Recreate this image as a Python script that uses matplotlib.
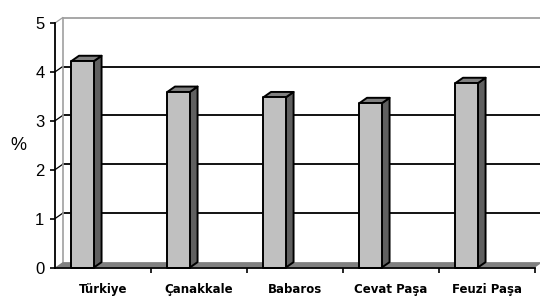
import numpy as np
import matplotlib
matplotlib.use("Agg")
import matplotlib.pyplot as plt

# values (percent)
categories = ["Türkiye", "Çanakkale", "Babaros", "Cevat Paşa", "Feuzi Paşa"]
values = [4.22, 3.59, 3.48, 3.36, 3.77]
yticks = [0, 1, 2, 3, 4, 5]

# fake-3D depth offsets (x in category units, y in value units)
DX, DY = 0.08, 0.11
BAR_LEFT, BAR_W = -0.33, 0.235
C_FRONT, C_SIDE, C_TOP, C_FLOOR = "#c0c0c0", "#606060", "#808080", "#808080"

plt.rcParams["font.family"] = ["Liberation Sans", "DejaVu Sans"]
fig = plt.figure(figsize=(5.4, 3.04), dpi=100)
ax = fig.add_axes([55 / 540, 1 - 267.5 / 304, 480 / 540, 244.5 / 304])
n = len(categories)
ax.set_xlim(-0.5, n - 0.5)
ax.set_ylim(0, 5)

x0, x1 = -0.5, n - 0.5
# back wall grid + side wall diagonals
for v in yticks[1:]:
    col = "#a0a0a0" if v == yticks[-1] else "black"
    ax.plot([x0 + DX, x1 + DX], [v + DY, v + DY], color=col, lw=1.3,
            clip_on=False, zorder=1)
    ax.plot([x0, x0 + DX], [v, v + DY], color=col, lw=0.9, clip_on=False, zorder=1)
ax.plot([x0 + DX, x0 + DX], [DY, yticks[-1] + DY], color="#a0a0a0", lw=1.2,
        clip_on=False, zorder=1)
# floor
ax.fill([x0, x1, x1 + DX, x0 + DX], [0, 0, DY, DY], color=C_FLOOR, lw=0,
        clip_on=False, zorder=2)

# bars
for i, v in enumerate(values):
    l = i + BAR_LEFT
    r = l + BAR_W
    kw = dict(edgecolor="black", lw=1.4, clip_on=False, zorder=3, joinstyle="round")
    ax.fill([r, r + DX, r + DX, r], [0, DY, v + DY, v], facecolor=C_SIDE, **kw)
    ax.fill([l, r, r + DX, l + DX], [v, v, v + DY, v + DY], facecolor=C_TOP, **kw)
    ax.fill([l, r, r, l], [0, 0, v, v], facecolor=C_FRONT, **kw)

for s in ("top", "right"):
    ax.spines[s].set_visible(False)
for s in ("left", "bottom"):
    ax.spines[s].set_linewidth(1.3)
    ax.spines[s].set_zorder(4)

ax.set_yticks(yticks)
ax.tick_params(axis="y", direction="out", length=3.6, width=1.2, pad=4, labelsize=12)
ax.set_xticks(range(n))
ax.set_xticklabels(categories, fontsize=8.5, fontweight="bold", family="DejaVu Sans")
ax.set_xticks(np.arange(n) + 0.5, minor=True)
ax.tick_params(axis="x", which="major", length=0, pad=11)
ax.tick_params(axis="x", which="minor", direction="out", length=3.6, width=1.2)
ax.set_ylabel("%", rotation=0, fontsize=13, labelpad=12, va="center")

fig.savefig("out.png", dpi=100)
